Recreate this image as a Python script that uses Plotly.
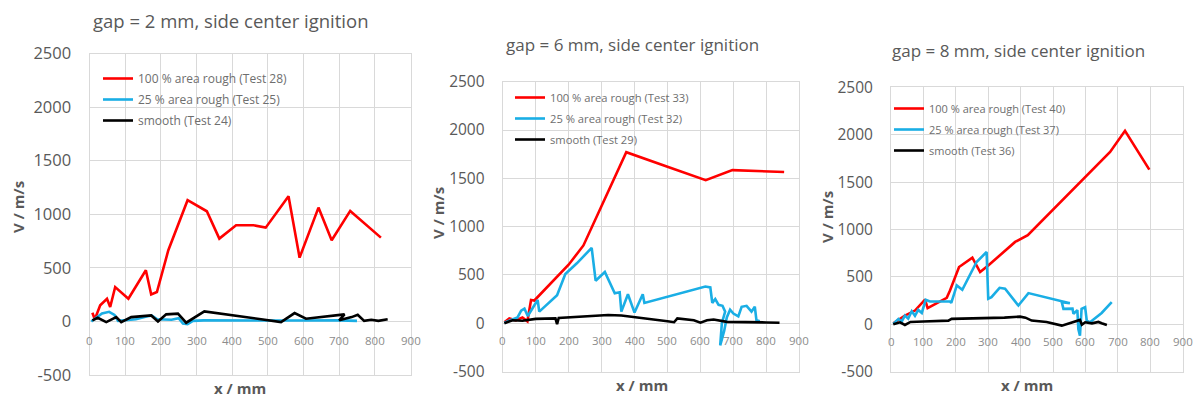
import plotly.graph_objects as go

# ---------------- data ----------------
titles = ["gap = 2 mm, side center ignition",
          "gap = 6 mm, side center ignition",
          "gap = 8 mm, side center ignition"]
names_p1 = ["100 % area rough (Test 28)", "25 % area rough (Test 25)", "smooth (Test 24)"]
names_p2 = ["100 % area rough (Test 33)", "25 % area rough (Test 32)", "smooth (Test 29)"]
names_p3 = ["100 % area rough (Test 40)", "25 % area rough (Test 37)", "smooth (Test 36)"]

x_ticks = [0, 100, 200, 300, 400, 500, 600, 700, 800, 900]
y_ticks = [-500, 0, 500, 1000, 1500, 2000, 2500]

# gap = 2 mm
x_p1_red = [8, 15, 30, 49, 58, 72, 109, 158, 173, 189, 221, 275, 329, 364, 411, 460, 494, 558, 589, 642, 679, 731, 817]
v_p1_red = [80, 20, 150, 212, 134, 321, 212, 477, 252, 274, 664, 1131, 1028, 773, 897, 897, 875, 1168, 595, 1062, 757, 1031, 782]
x_p1_blue = [5, 20, 35, 55, 70, 80, 100, 130, 160, 175, 190, 230, 250, 262, 275, 290, 320, 400, 500, 600, 700, 750]
v_p1_blue = [0, 40, 75, 90, 60, 5, 10, 20, 45, 55, 20, 15, 30, -20, -25, 5, 10, 8, 5, 8, 10, 5]
x_p1_black = [8, 23, 47, 75, 89, 117, 173, 192, 215, 248, 271, 322, 537, 575, 607, 715, 700, 735, 752, 770, 790, 810, 836]
v_p1_black = [10, 34, -6, 40, -6, 40, 56, 0, 66, 72, -12, 94, -6, 78, 25, 66, 10, 40, 62, 5, 15, 5, 20]

# gap = 6 mm
x_p2_red = [5, 20, 40, 60, 75, 86, 96, 120, 160, 200, 245, 300, 375, 500, 616, 697, 854]
v_p2_red = [10, 50, 30, 60, 20, 240, 235, 320, 455, 605, 805, 1215, 1770, 1620, 1480, 1585, 1565]
x_p2_blue = [5, 30, 45, 56, 66, 76, 86, 106, 111, 165, 190, 225, 270, 282, 310, 340, 355, 360, 380, 400, 425, 430,
             615, 630, 636, 645, 655, 667, 675, 665, 660, 672, 680, 690, 700, 715, 725, 740, 755, 765, 770, 780]
v_p2_blue = [5, 40, 60, 130, 150, 75, 130, 240, 120, 290, 510, 620, 780, 440, 530, 310, 320, 120, 300, 110, 300, 210,
             380, 370, 210, 250, 190, 180, 120, 0, -230, -80, 60, 140, 100, 70, 170, 180, 120, 170, 30, 20]
x_p2_black = [5, 30, 60, 100, 160, 165, 170, 200, 250, 280, 320, 360, 400, 450, 500, 520, 530, 580, 600, 620, 640, 680, 720, 760, 800, 840]
v_p2_black = [0, 30, 25, 45, 50, -10, 55, 60, 70, 75, 85, 80, 65, 40, 20, 10, 50, 30, 5, 30, 38, 14, 10, 5, 8, 5]

# gap = 8 mm
x_p3_red = [7, 20, 43, 74, 105, 113, 172, 182, 210, 251, 275, 300, 383, 422, 500, 600, 676, 722, 797]
v_p3_red = [10, 40, 92, 145, 261, 170, 279, 357, 604, 703, 551, 620, 869, 940, 1210, 1550, 1818, 2041, 1631]
x_p3_blue = [7, 23, 33, 43, 53, 64, 74, 84, 95, 107, 120, 182, 186, 203, 220, 264, 295, 300, 310, 335, 352, 393, 424,
             552, 527, 532, 560, 563, 575, 578, 583, 588, 599, 604, 614, 650, 681]
v_p3_blue = [4, 57, 30, 92, 60, 138, 90, 152, 120, 258, 240, 240, 225, 410, 364, 657, 763, 269, 286, 385, 375, 198, 329,
             223, 233, 163, 165, 110, 150, -50, -120, 163, 180, 39, 21, 120, 233]
x_p3_black = [7, 28, 43, 60, 100, 177, 187, 250, 290, 350, 398, 415, 434, 480, 527, 542, 570, 583, 589, 599, 620, 640, 650, 666]
v_p3_black = [0, 21, -7, 25, 30, 39, 57, 60, 67, 70, 81, 70, 39, 25, -14, 4, 30, 46, -4, 21, 10, 25, 11, -7]

# ---------------- styling ----------------
W, H = 1195, 399
FONT = "Open Sans"
RED, BLUE, BLACK = "#ff0000", "#1aaee5", "#000000"
GRID = "#d9d9d9"
TXT = "#595959"

# plot areas in pixels: left, right, top, bottom
areas = [(89.5, 410.5, 53.5, 375.0),
         (502.7, 799.3, 81.7, 371.5),
         (891.0, 1182.7, 87.3, 371.7)]
title_pos = [(230, 20, 18.5), (632, 44, 17), (1018, 50, 17)]
ytitle_pos = [(18, 207), (438, 213), (827, 217)]
xtitle_pos = [(240, 388), (642, 385), (1027, 385)]
legend_pos = [(98, 64, 12), (510, 83, 11.2), (889, 94, 11)]
ytick_size = [16.5, 15.5, 15.5]
xtick_shift = [-19, -17.5, -17]

panels = [
    (names_p1, [(x_p1_red, v_p1_red, RED), (x_p1_blue, v_p1_blue, BLUE), (x_p1_black, v_p1_black, BLACK)]),
    (names_p2, [(x_p2_red, v_p2_red, RED), (x_p2_blue, v_p2_blue, BLUE), (x_p2_black, v_p2_black, BLACK)]),
    (names_p3, [(x_p3_red, v_p3_red, RED), (x_p3_blue, v_p3_blue, BLUE), (x_p3_black, v_p3_black, BLACK)]),
]

fig = go.Figure()
layout = dict(width=W, height=H, autosize=False,
              margin=dict(l=0, r=0, t=0, b=0, pad=0, autoexpand=False),
              template="none",
              paper_bgcolor="white", plot_bgcolor="white", showlegend=True,
              font=dict(family=FONT, color=TXT))
annotations = []

for i, (names, series) in enumerate(panels):
    k = "" if i == 0 else str(i + 1)
    L, R, T, B = areas[i]
    xd = [L / W, R / W]
    yd = [1 - B / H, 1 - T / H]
    leg = "legend" + k
    for j, ((xs, vs, col), nm) in enumerate(zip(series, names)):
        fig.add_trace(go.Scatter(x=xs, y=vs, mode="lines", name=nm,
                                 line=dict(color=col, width=2.6),
                                 xaxis="x" + k, yaxis="y" + k, legend=leg,
                                 legendgroup=f"g{i}{j}"))
    layout["xaxis" + k] = dict(domain=xd, range=[0, 900], tickvals=x_ticks,
                               anchor="y" + k, showticklabels=False,
                               showgrid=True, gridcolor=GRID, gridwidth=1,
                               zeroline=False, showline=True, mirror=True,
                               linecolor=GRID, linewidth=1, ticks="",
                               automargin=False, fixedrange=True)
    layout["yaxis" + k] = dict(domain=yd, range=[-500, 2500], tickvals=y_ticks,
                               ticktext=[str(t) for t in y_ticks],
                               anchor="x" + k, showgrid=True, gridcolor=GRID, gridwidth=1,
                               zeroline=True, zerolinecolor=GRID, zerolinewidth=1,
                               showline=True, mirror=True, linecolor=GRID, linewidth=1,
                               ticks="", ticklabelstandoff=14, automargin=False,
                               tickfont=dict(family=FONT, size=ytick_size[i], color=TXT),
                               fixedrange=True)
    # x tick labels sit next to the horizontal axis (at V = 0), as in Excel
    for t in x_ticks:
        annotations.append(dict(text=str(t), x=t, y=0, xref="x" + k, yref="y" + k,
                                xanchor="center", yanchor="middle", yshift=xtick_shift[i],
                                showarrow=False,
                                font=dict(family=FONT, size=11.5, color="#8c8c8c")))
    lx, ly, lfs = legend_pos[i]
    layout[leg] = dict(x=lx / W, y=1 - ly / H, xanchor="left", yanchor="top",
                       bgcolor="rgba(0,0,0,0)", borderwidth=0,
                       font=dict(family=FONT, size=lfs, color="#6e6e6e"),
                       tracegroupgap=2, itemclick=False, itemdoubleclick=False)
    tx, ty, tfs = title_pos[i]
    annotations.append(dict(text=titles[i], x=tx / W, y=1 - ty / H, xref="paper", yref="paper",
                            xanchor="center", yanchor="middle", showarrow=False,
                            font=dict(family=FONT, size=tfs, color=TXT)))
    ax_, ay_ = ytitle_pos[i]
    annotations.append(dict(text="<b>V / m/s</b>", x=ax_ / W, y=1 - ay_ / H, xref="paper", yref="paper",
                            xanchor="center", yanchor="middle", showarrow=False, textangle=-90,
                            font=dict(family=FONT, size=15, color=TXT)))
    bx, by = xtitle_pos[i]
    annotations.append(dict(text="<b>x / mm</b>", x=bx / W, y=1 - by / H, xref="paper", yref="paper",
                            xanchor="center", yanchor="middle", showarrow=False,
                            font=dict(family=FONT, size=15, color=TXT)))

layout["annotations"] = annotations
fig.update_layout(**layout)
fig.write_html("out.html")
